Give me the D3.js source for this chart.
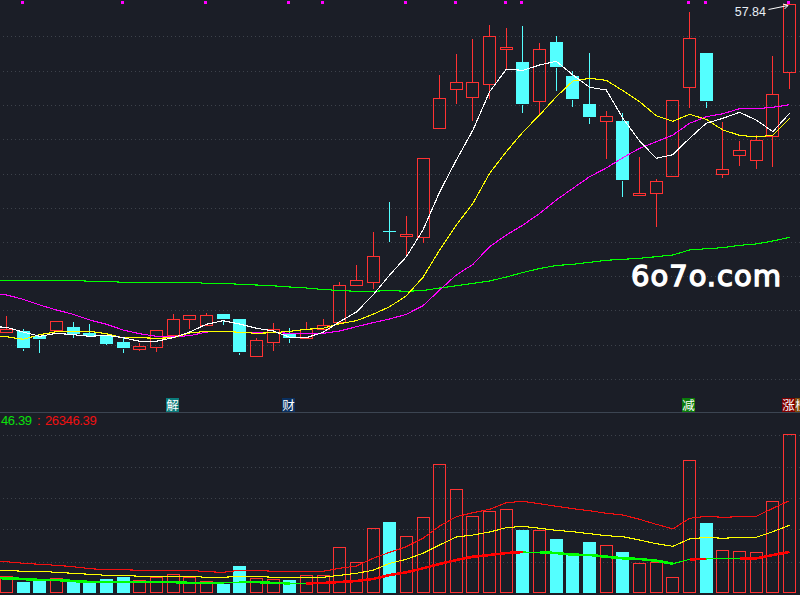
<!DOCTYPE html>
<html><head><meta charset="utf-8">
<style>html,body{margin:0;padding:0;background:#1b1e27;overflow:hidden}svg{display:block}</style>
<script src="https://cdn.jsdelivr.net/npm/d3@7"></script></head><body>
<script>
const opens=[24.97,25.04,24.54,25.17,25.44,24.84,24.57,23.94,23.27,23.47,24.67,26.21,25.67,26.74,26.21,22.57,23.99,24.74,24.34,25.21,25.91,29.67,29.97,35.01,34.57,34.47,45.31,49.21,48.47,49.71,53.21,51.94,48.01,53.94,50.54,47.74,46.01,46.04,38.67,38.81,40.51,49.47,52.84,40.71,42.67,42.17,44.51,50.91];
const closes=[25.21,23.34,24.24,26.01,24.71,24.57,23.74,23.34,23.51,25.11,26.21,26.61,26.61,26.21,22.94,24.11,25.21,24.37,25.21,25.61,29.61,30.11,32.51,35.01,34.74,42.31,48.31,49.91,49.91,54.51,53.41,47.74,53.21,51.44,48.27,46.44,46.51,40.17,38.84,40.01,48.11,54.31,48.07,41.21,43.11,44.11,48.71,57.71];
const highs=[26.54,25.24,24.54,26.01,25.94,25.74,24.57,24.34,23.84,25.11,26.74,26.61,26.84,26.74,26.21,24.34,25.84,25.34,25.94,26.21,29.94,31.64,34.94,37.94,36.54,42.31,50.64,52.74,54.24,55.64,55.34,55.54,53.84,54.54,51.04,52.84,47.04,46.81,42.44,40.24,48.11,56.94,52.84,45.94,44.04,44.61,52.54,57.84];
const lows=[24.87,23.04,22.84,24.97,24.34,24.54,23.74,22.84,23.04,22.94,24.67,25.24,25.67,25.64,22.64,22.57,23.07,23.84,24.21,25.21,25.91,29.67,29.27,33.97,32.41,33.87,45.31,47.77,46.07,48.27,51.21,46.87,46.61,49.04,47.47,45.74,42.27,38.47,38.67,35.47,40.51,47.37,47.37,40.37,41.57,41.27,41.47,49.27];
// moving averages: first entry is the session just left of the visible window
const ma5=[25.49,25.41,24.94,24.51,24.81,24.67,24.51,24.61,24.37,24.01,24.01,24.37,24.94,25.71,26.07,25.74,25.31,25.06,24.41,24.37,24.91,25.97,26.94,28.64,30.64,32.47,35.14,38.94,42.14,45.14,48.97,51.21,51.11,51.64,52.01,50.64,49.41,49.14,46.31,44.04,42.31,42.67,44.31,45.81,46.31,46.91,46.14,44.97,46.81];
const ma10=[24.59,24.47,24.21,24.67,24.97,24.97,25.01,24.77,24.37,24.37,24.31,24.37,24.84,25.01,25.01,24.91,24.81,24.87,25.01,25.21,25.31,25.77,26.07,26.71,27.47,28.57,30.41,33.14,35.64,37.81,40.81,42.97,44.94,46.64,48.47,50.04,50.31,50.11,49.07,47.97,46.57,46.01,46.71,46.21,45.14,44.61,44.44,44.61,46.31];
const ma20=[28.84,28.64,28.21,27.64,27.14,26.71,26.14,25.71,25.14,24.77,24.51,24.47,24.57,24.94,25.01,24.91,24.91,24.89,24.81,24.81,24.81,25.04,25.47,25.87,26.24,26.71,27.57,29.14,30.64,31.71,33.47,34.64,35.64,36.79,38.14,39.31,40.47,41.34,42.37,43.31,43.97,44.64,45.81,46.47,46.77,47.27,47.27,47.41,47.67];
const ma60=[30.11,30.11,30.11,30.11,30.11,30.11,30.01,30.01,29.91,29.91,29.91,29.91,29.91,29.81,29.81,29.71,29.64,29.56,29.44,29.34,29.19,29.09,29.01,29.01,29.09,29.01,29.09,29.34,29.56,29.81,30.04,30.44,30.89,31.29,31.59,31.71,31.91,32.11,32.21,32.31,32.47,32.64,33.14,33.27,33.37,33.61,33.74,34.04,34.41];
const volumes=[1670,1100,1270,1470,1200,1100,1400,1600,1270,1570,1870,1570,1200,900,2700,1470,1370,1300,1770,1770,4570,3070,6470,7100,5670,7570,12870,10370,7670,8170,8370,6300,6270,5400,4000,5100,4770,4100,2970,3130,1570,13270,7000,4270,4170,4070,9170,15870];
const volMaLong=[3170,3130,2970,2870,2770,2630,2430,2330,2330,2270,2270,2270,2270,2130,2070,2270,2270,2170,2170,2170,2170,2470,2700,3470,4070,4630,5470,6700,7630,8030,8370,9030,9170,8930,8670,8430,8230,7970,7800,7370,6870,6400,7470,7670,7570,7630,7670,8470,9230];
const volMaMid=[2300,2270,2170,2170,2070,1970,1870,1770,1770,1670,1670,1670,1670,1570,1570,1670,1670,1570,1570,1570,1570,1770,1970,2270,2970,3370,3970,4800,5600,5800,6100,6530,6670,6470,6270,6130,5930,5730,5630,5300,4930,4670,5400,5570,5470,5570,5570,6130,6770];
const volMaShort=[1500,1470,1400,1300,1300,1200,1100,1100,1100,1100,1100,1100,1000,1000,1000,1100,1100,1000,970,970,1000,1100,1200,1400,1800,2070,2470,2900,3300,3630,3800,4000,4100,4070,4000,3830,3800,3630,3470,3400,3230,2930,3370,3400,3470,3470,3470,3800,4100];
// state of each short-average segment ending at a session: 0 thin green, 1 green, 2 red
const volMaState=[1,1,1,1,1,1,1,1,1,1,1,1,1,1,0,0,1,1,0,2,2,2,2,2,2,2,2,2,2,2,2,2,0,1,1,1,1,1,1,1,1,0,2,0,0,2,2,2];
const priceTicks=[54.49,51.06,47.64,44.21,40.79,37.36,33.94,30.51,27.09,23.66,20.24];
const volumeTicks=[15770,12570,9470,6370,3130];
const signalSessions=[1,7,12,17,19,24,27,30,31,41,42,47];
const flagLabels=["解","财","减","涨"];
const flagSessions=[10,17,41,47];
const flagColors=["#0b7a7a","#0a3060","#0a7a0a","#800000"];
const lastHigh=57.84, readoutLeft="46.39", readoutRight="26346.39", watermark="6o7o.com";

const W=800,H=595;
const x=d3.scaleLinear().domain([0,47]).range([6.5,789.52]);
const y=d3.scaleLinear().domain([58.14,0]).range([0,581.4]);
const yv=d3.scaleLinear().domain([0,15870]).range([593,434.3]);
const px=i=>Math.floor(x(i))+0.5;
const sn=v=>Math.round(v)+0.5;
const RED="#ff3232",CYAN="#54ffff",GRID="#3d424b";
const svg=d3.select("body").append("svg").attr("width",W).attr("height",H).style("background","#1b1e27");
const crisp=g=>g.attr("shape-rendering","crispEdges");

// grid
const gridG=svg.append("g").call(crisp);
const gridLines=[...priceTicks.map(y),...volumeTicks.map(yv)];
gridG.selectAll("line").data(gridLines).join("line")
 .attr("x1",3).attr("x2",W).attr("y1",sn).attr("y2",sn)
 .attr("stroke",GRID).attr("stroke-dasharray","1 3");
svg.append("line").call(crisp).attr("x1",0).attr("x2",W).attr("y1",412.5).attr("y2",412.5).attr("stroke","#3c4552");

// candles
const S=d3.range(48);
const up=i=>closes[i]>opens[i];
const candles=svg.append("g").call(crisp);
S.forEach(i=>{
  const c=up(i)?RED:CYAN, xc=px(i);
  const top=sn(y(Math.max(opens[i],closes[i]))), bot=sn(y(Math.min(opens[i],closes[i])));
  candles.append("line").attr("x1",xc).attr("x2",xc).attr("y1",Math.round(y(highs[i]))).attr("y2",top).attr("stroke",c);
  candles.append("line").attr("x1",xc).attr("x2",xc).attr("y1",bot).attr("y2",Math.round(y(lows[i]))).attr("stroke",c);
  if(up(i)) candles.append("rect").attr("x",xc-6).attr("width",12).attr("y",top).attr("height",bot-top).attr("fill","none").attr("stroke",RED);
  else if(bot-top<1) candles.append("line").attr("x1",xc-6.5).attr("x2",xc+6.5).attr("y1",top).attr("y2",top).attr("stroke",CYAN);
  else candles.append("rect").attr("x",xc-6.5).attr("width",13).attr("y",top-.5).attr("height",bot-top).attr("fill",CYAN);
});

// price averages
const line=sc=>d3.line().x((d,k)=>x(k-1)).y(d=>sc(d));
[[ma60,"#00ff00"],[ma20,"#ff00ff"],[ma10,"#ffff00"],[ma5,"#ffffff"]].forEach(([a,c])=>{
  svg.append("path").call(crisp).attr("d",line(y)(a)).attr("fill","none").attr("stroke",c).attr("stroke-width",1.1);
});

// signal markers
svg.append("g").call(crisp).selectAll("rect").data(signalSessions).join("rect")
 .attr("x",i=>px(i)-2.5).attr("y",1).attr("width",3).attr("height",3).attr("fill","#ff00ff");

// last high annotation
const tipX=px(47)-1.5, tipY=y(lastHigh)+1;
const ann=svg.append("g").attr("stroke","#fff").attr("fill","none");
ann.append("path").attr("d",`M${tipX-19.5},${tipY+5.5}L${tipX},${tipY+1.5}M${tipX-5},${tipY}L${tipX},${tipY+1.5}L${tipX-3.5},${tipY+5}`).attr("stroke-width",1);
svg.append("text").attr("x",tipX-22).attr("y",15.5).attr("text-anchor","end")
 .attr("font-family","Liberation Sans").attr("font-size",12.5).attr("fill","#e8eef5").text(lastHigh);

// watermark
svg.append("text").attr("x",631).attr("y",286).attr("textLength",150).attr("lengthAdjust","spacing")
 .attr("font-family","DejaVu Sans").attr("font-size",29).attr("fill","#fff").attr("stroke","#fff").attr("stroke-width",1.4).text(watermark);

// flags
flagLabels.forEach((t,k)=>{
  const xl=px(flagSessions[k])-7.5;
  svg.append("rect").call(crisp).attr("x",xl).attr("y",398).attr("width",13).attr("height",14).attr("fill",flagColors[k]);
  svg.append("text").attr("x",xl+6.5).attr("y",409.5).attr("text-anchor","middle").attr("font-family","Noto Sans CJK SC").attr("font-size",12.5).attr("fill","#fff").text(t);
});
const xb=px(47)+5.5;
svg.append("rect").call(crisp).attr("x",xb).attr("y",398).attr("width",13).attr("height",14).attr("fill","#7a4a0a");
svg.append("text").attr("x",xb+6.5).attr("y",409.5).attr("text-anchor","middle").attr("font-family","Noto Sans CJK SC").attr("font-size",12.5).attr("fill","#fff").text("榜");

// readout
const rf={"font-family":"Liberation Sans","font-size":13};
const put=(xp,c,t,len)=>{const s=svg.append("text").attr("x",xp).attr("y",425).attr("fill",c).text(t);for(const k in rf)s.attr(k,rf[k]);if(len)s.attr("textLength",len);};
put(1,"#0be00b",readoutLeft,31);put(37,"#f01010",":");put(45,"#f01010",readoutRight,51.7);

// volume bars
const bars=svg.append("g").call(crisp);
S.forEach(i=>{
  const xc=px(i), t=sn(yv(volumes[i]));
  if(up(i)) bars.append("rect").attr("x",xc-6).attr("width",12).attr("y",t).attr("height",592.5-t).attr("fill","none").attr("stroke",RED);
  else bars.append("rect").attr("x",xc-6.5).attr("width",13).attr("y",t-.5).attr("height",593-t+.5).attr("fill",CYAN);
});

// volume averages
svg.append("path").call(crisp).attr("d",line(yv)(volMaLong)).attr("fill","none").attr("stroke","#f01010").attr("stroke-width",1.1);
svg.append("path").call(crisp).attr("d",line(yv)(volMaMid)).attr("fill","none").attr("stroke","#ffff00").attr("stroke-width",1.1);
volMaState.forEach((st,i)=>{
  svg.append("line").call(crisp).attr("x1",x(i-1)).attr("x2",x(i)).attr("y1",yv(volMaShort[i])).attr("y2",yv(volMaShort[i+1]))
   .attr("stroke",st==2?"#ff0000":"#00ff00").attr("stroke-width",st==0?1.1:2.6).attr("stroke-linecap","butt");
});
</script></body></html>
